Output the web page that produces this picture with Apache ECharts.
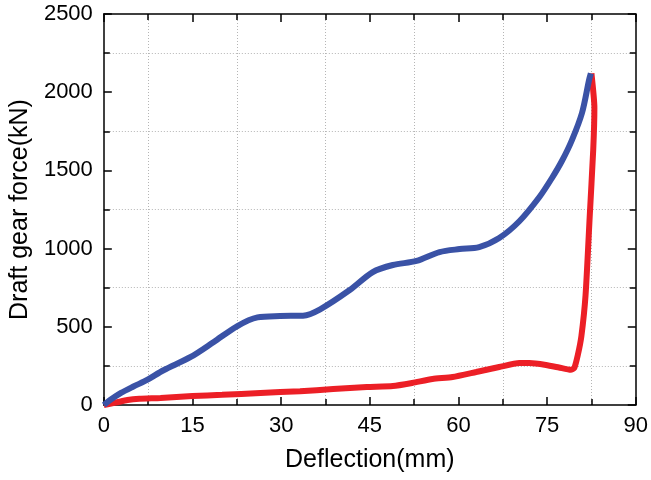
<!DOCTYPE html>
<html>
<head>
<meta charset="utf-8">
<script src="https://cdn.jsdelivr.net/npm/echarts@6/dist/echarts.min.js"></script>
<style>
  html, body { margin: 0; padding: 0; background: #fff; }
  #chart { width: 651px; height: 480px; }
</style>
</head>
<body>
<div id="chart"></div>
<script>
// Loading curve (deflection mm, force kN)
const loadingCurve = [
  [0, 0], [1, 30], [2.9, 77], [5, 118], [7.4, 162], [10.1, 222], [14.7, 307],
  [18.6, 403], [22.6, 505], [26, 560], [29.8, 569], [33.7, 571], [36.6, 612],
  [41.6, 735], [45.5, 850], [48.9, 895], [52.9, 921], [56.8, 978], [60.2, 997],
  [63.5, 1010], [66.9, 1068], [70.3, 1175], [73.7, 1330], [75.8, 1450],
  [77.5, 1560], [79.2, 1694], [80.9, 1867], [82.1, 2078], [82.4, 2120]
];
// Unloading curve (from peak back to origin)
const unloadingCurve = [
  [82.5, 2120], [83.0, 1900], [82.8, 1630], [82.2, 1200], [81.5, 700],
  [80.8, 440], [80.2, 320], [79.6, 237], [79.0, 225], [77, 240], [74.8, 256],
  [72, 268], [70.3, 268], [66.9, 243], [63, 211], [59, 179], [55.6, 166],
  [52.2, 141], [48.9, 121], [44.5, 115], [38.8, 102], [33.2, 88], [26.5, 77],
  [20, 65], [15, 57], [9.6, 45], [6, 40], [4, 32], [2, 15], [0, 0]
];
const xRange = [0, 90, 15];
const yRange = [0, 2500, 500];

const font = 'Liberation Sans, Arial, sans-serif';
const axisLine = { show: true, onZero: false, lineStyle: { color: '#000', width: 1.5 } };
const tick = { show: true, inside: true, length: 8, lineStyle: { color: '#000', width: 1.5 } };
const minorTick = { show: true, splitNumber: 2, length: 6, lineStyle: { color: '#000', width: 1.5 } };
const gridStyle = { color: '#b5b5b5', width: 1, type: [1, 2] };
const labelStyle = { fontFamily: font, fontSize: 22, color: '#000', formatter: v => String(v) };
const nameStyle = { fontFamily: font, fontSize: 25, color: '#000' };

function xAxis(pos, primary) {
  return {
    type: 'value', position: pos, min: xRange[0], max: xRange[1], interval: xRange[2],
    name: primary ? 'Deflection(mm)' : '', nameLocation: 'middle', nameGap: 43,
    nameTextStyle: nameStyle,
    axisLine, axisTick: tick, minorTick,
    axisLabel: Object.assign({ show: primary, margin: 10 }, labelStyle),
    splitLine: { show: false }, minorSplitLine: { show: primary, lineStyle: gridStyle }
  };
}
function yAxis(pos, primary) {
  return {
    type: 'value', position: pos, min: yRange[0], max: yRange[1], interval: yRange[2],
    name: primary ? 'Draft gear force(kN)' : '', nameLocation: 'middle', nameGap: 68,
    nameTextStyle: nameStyle,
    axisLine, axisTick: tick, minorTick,
    axisLabel: Object.assign({ show: primary, margin: 11 }, labelStyle),
    splitLine: { show: false }, minorSplitLine: { show: primary, lineStyle: gridStyle }
  };
}

const chart = echarts.init(document.getElementById('chart'), null, { renderer: 'canvas' });
chart.setOption({
  backgroundColor: '#fff',
  animation: false,
  grid: { left: 103, right: 14, top: 14, bottom: 75 },
  xAxis: [xAxis('bottom', true), xAxis('top', false)],
  yAxis: [yAxis('left', true), yAxis('right', false)],
  series: [
    {
      type: 'line', data: loadingCurve, xAxisIndex: 0, yAxisIndex: 0,
      showSymbol: false, smooth: 0.3, lineStyle: { color: '#3a52a6', width: 6 }, z: 3
    },
    {
      type: 'line', data: unloadingCurve, xAxisIndex: 0, yAxisIndex: 0,
      showSymbol: false, smooth: 0.2, lineStyle: { color: '#ec1f26', width: 6 }, z: 2
    }
  ]
});
</script>
</body>
</html>
